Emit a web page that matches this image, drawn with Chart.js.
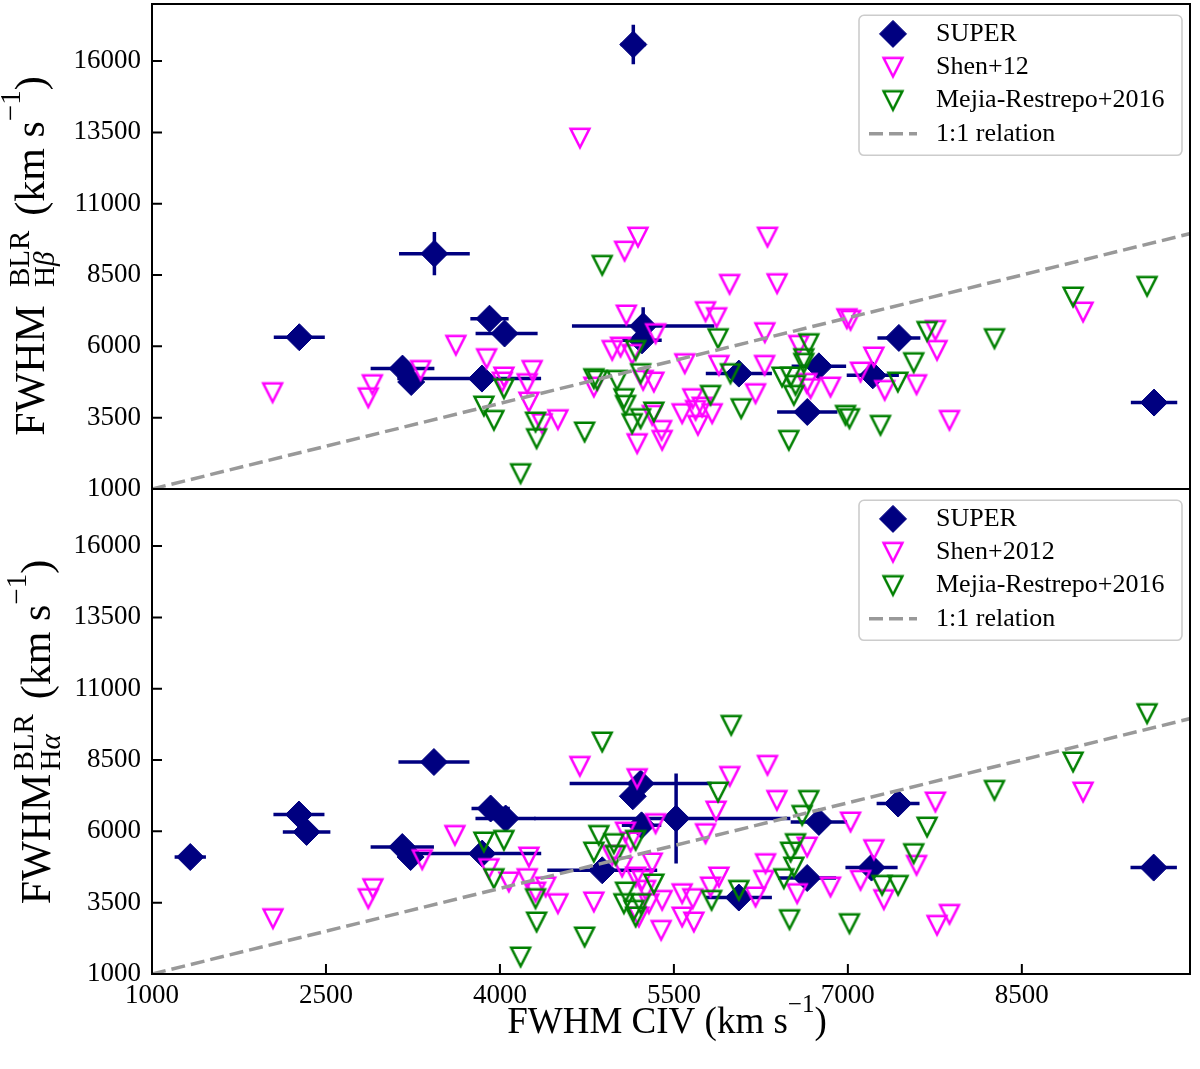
<!DOCTYPE html>
<html>
<head>
<meta charset="utf-8">
<script src="https://cdn.jsdelivr.net/npm/chart.js@4.4.1/dist/chart.umd.min.js"></script>
<style>
  body { margin: 0; background: #fff; }
  #wrap { position: relative; width: 1200px; height: 1069px; }
  #top-wrap { position: absolute; left: 0; top: 0; z-index: 2; }
  #bot-wrap { position: absolute; left: 0; top: 489px; z-index: 1; }
</style>
</head>
<body>
<div id="wrap">
  <div id="bot-wrap"><canvas id="bottom-panel" width="1200" height="580"></canvas></div>
  <div id="top-wrap"><canvas id="top-panel" width="1200" height="510"></canvas></div>
</div>
<script>
// axes
const xTicks = [1000, 2500, 4000, 5500, 7000, 8500];
const yTicks = [1000, 3500, 6000, 8500, 11000, 13500, 16000];
const xRange = [1000, 9950];
const yRange = [1000, 18000];
const oneToOne = [1000, 10000];

// top panel, FWHM Hbeta vs FWHM CIV
// SUPER rows: [x, y, xerr low, xerr high, yerr]
const hbSuper = [
  [2270, 6320, 220, 220, 0], [3435, 9250, 305, 305, 755], [3910, 6970, 165, 165, 0],
  [4040, 6450, 250, 285, 0], [3160, 5220, 275, 275, 0], [3235, 4750, 100, 100, 0],
  [3845, 4870, 730, 510, 0], [5150, 16580, 110, 110, 690], [5235, 6710, 614, 614, 665],
  [5225, 6210, 170, 170, 0], [6060, 5045, 285, 285, 0], [6750, 5300, 235, 235, 0],
  [6650, 3700, 260, 260, 0], [7215, 4985, 225, 225, 0], [7440, 6295, 185, 185, 0],
  [9640, 4030, 200, 200, 0],
];
const hbShen = [
  [2040, 4380], [2900, 4660], [2865, 4200], [3316, 5160], [3620, 6040], [3885, 5570],
  [4020, 4750], [4690, 13300], [5190, 9830], [5075, 9340], [5980, 8175], [6307, 9830],
  [6390, 8200], [5090, 7100], [5773, 7218], [5868, 7008], [6284, 6482], [6991, 6973],
  [4968, 5861], [5040, 5977], [5140, 5721], [5342, 6447], [4278, 5160], [4034, 4926],
  [4235, 4694], [4250, 4049], [4364, 3292], [4500, 3432], [4810, 4575], [5235, 4810],
  [5327, 4750], [5594, 5395], [5888, 5336], [6282, 5336], [6204, 4344], [6577, 6037],
  [6678, 4519], [6850, 4575], [5571, 3643], [5663, 4169], [5687, 3758], [5744, 3874],
  [5830, 3643], [5707, 3233], [5183, 2591], [5313, 3583], [5394, 3057], [5399, 2707],
  [6646, 4705], [7023, 6913], [7755, 6563], [7769, 5861], [7224, 5627], [7109, 5101],
  [7318, 4459], [7592, 4659], [7876, 3408], [9028, 7204],
];
const hbMejia = [
  [3862, 3909], [3948, 3408], [4034, 4519], [4882, 8841], [5881, 6272], [6663, 6096],
  [6620, 5571], [4307, 3348], [4316, 2767], [4178, 1540], [4730, 2998], [4810, 4870],
  [4839, 4810], [5011, 4810], [5069, 4169], [5083, 3934], [5213, 5045], [5170, 5860],
  [5140, 3292], [5213, 3468], [5327, 3699], [5816, 4284], [6080, 3818], [5988, 5045],
  [6433, 4926], [6506, 4926], [6549, 4635], [6534, 4284], [6491, 2707], [6980, 3583],
  [6620, 5406], [8942, 7730], [9580, 8105], [7683, 6527], [8264, 6272], [7568, 5430],
  [7431, 4750], [7014, 3468], [7281, 3233],
];

// bottom panel, FWHM Halpha vs FWHM CIV
const haSuper = [
  [1330, 5100, 135, 135, 0], [2267, 6590, 220, 220, 0], [2333, 5980, 205, 205, 0],
  [3431, 8430, 306, 306, 0], [3158, 5450, 273, 273, 0], [3230, 5100, 100, 100, 0],
  [3847, 5220, 617, 509, 0], [3920, 6800, 165, 165, 0], [4049, 6450, 260, 260, 0],
  [5213, 7675, 612, 612, 0], [5146, 7230, 60, 60, 0], [5221, 6210, 170, 170, 0],
  [5519, 6450, 1225, 985, 1577], [4882, 4635, 474, 474, 0], [6060, 3680, 285, 285, 0],
  [6649, 4365, 250, 250, 0], [6750, 6330, 243, 243, 0], [7433, 6975, 185, 185, 0],
  [7204, 4730, 225, 225, 0], [9637, 4730, 200, 200, 0],
];
const haShen = [
  [2043, 2942], [2865, 3643], [2905, 3993], [3330, 5010], [3612, 5861], [3905, 4694],
  [4689, 8280], [5183, 7849], [5982, 7929], [6307, 8315], [6388, 7088], [5864, 6713],
  [5773, 5921], [5342, 6272], [5083, 5977], [5126, 5627], [4968, 5160], [5054, 4750],
  [5313, 4891], [5226, 4284], [5170, 4400], [5256, 3934], [5198, 2998], [5284, 3468],
  [5390, 2532], [4250, 5101], [4235, 4344], [4077, 4227], [4394, 4052], [4307, 3874],
  [4500, 3468], [4810, 3526], [5399, 3583], [5571, 3817], [5663, 3643], [5571, 2998],
  [5672, 2823], [5816, 4052], [5888, 4400], [6204, 3701], [6290, 4870], [6275, 4284],
  [6649, 5451], [6563, 3818], [6850, 4052], [7023, 6328], [7755, 7029], [7224, 5361],
  [7109, 4284], [7310, 3608], [7592, 4810], [7769, 2707], [7876, 3093], [9028, 7379],
];
const haMejia = [
  [3862, 5627], [3948, 4344], [4034, 5686], [4882, 9132], [5994, 9717], [5881, 7379],
  [6663, 7088], [6606, 6562], [4307, 3643], [4316, 2823], [4178, 1596], [4730, 2297],
  [4853, 5861], [4810, 5276], [4982, 5571], [4997, 5160], [5170, 5686], [5083, 3874],
  [5069, 3468], [5155, 3233], [5213, 3468], [5170, 2998], [5327, 4155], [5825, 3583],
  [6060, 3934], [6448, 4344], [6506, 5276], [6549, 5571], [6534, 4750], [6497, 2907],
  [7014, 2766], [9580, 10127], [8942, 8431], [8264, 7439], [7683, 6152], [7568, 5220],
  [7295, 4109], [7433, 4109],
];

const topLabels = ["SUPER", "Shen+12", "Mejia-Restrepo+2016", "1:1 relation"];
const bottomLabels = ["SUPER", "Shen+2012", "Mejia-Restrepo+2016", "1:1 relation"];

const NAVY = "#000080";
const MAGENTA = "#ff00ff";
const GREEN = "#008000";
const GREY = "#999999";
const SERIF = "'Liberation Serif', 'Times New Roman', serif";

Chart.defaults.font.family = SERIF;
Chart.defaults.color = "#000";

// hollow "v" marker, centred on its bounding box like matplotlib
const makeTriangle = (color) => {
  const c = document.createElement("canvas");
  c.width = 30;
  c.height = 30;
  const g = c.getContext("2d");
  g.strokeStyle = color;
  g.lineWidth = 2.5;
  g.lineJoin = "miter";
  g.beginPath();
  g.moveTo(15 - 9.4, 15 - 9.2);
  g.lineTo(15 + 9.4, 15 - 9.2);
  g.lineTo(15, 15 + 9.2);
  g.closePath();
  g.stroke();
  return c;
};
const magentaTri = makeTriangle(MAGENTA);
const greenTri = makeTriangle(GREEN);

const fontOf = (r) => `${r.italic ? "italic " : ""}${r.size}px ${SERIF}`;
const runsWidth = (ctx, runs) =>
  runs.reduce((w, r) => {
    ctx.font = fontOf(r);
    return w + ctx.measureText(r.t).width;
  }, 0);
const itemWidth = (ctx, it) => {
  if (it.gap !== undefined) return it.gap;
  if (it.stack) return Math.max(...it.stack.map((s) => runsWidth(ctx, s)));
  return runsWidth(ctx, it.runs);
};
const drawRuns = (ctx, runs, x) => {
  runs.forEach((r) => {
    ctx.font = fontOf(r);
    ctx.fillText(r.t, x, r.dy || 0);
    x += ctx.measureText(r.t).width;
  });
};
// text with super/subscripts, centred on (cx, baseY)
const drawRich = (ctx, items, cx, baseY, rotated) => {
  ctx.save();
  ctx.translate(cx, baseY);
  if (rotated) ctx.rotate(-Math.PI / 2);
  ctx.fillStyle = "#000";
  ctx.textAlign = "left";
  ctx.textBaseline = "alphabetic";
  const total = items.reduce((w, it) => w + itemWidth(ctx, it), 0);
  let x = -total / 2;
  items.forEach((it) => {
    if (it.runs) drawRuns(ctx, it.runs, x);
    if (it.stack) it.stack.forEach((s) => drawRuns(ctx, s, x));
    x += itemWidth(ctx, it);
  });
  ctx.restore();
};

const errorBars = {
  id: "errorBars",
  beforeDatasetDraw(chart, args) {
    const ds = chart.data.datasets[args.index];
    if (!ds.errors) return;
    const { ctx, scales } = chart;
    ctx.save();
    ctx.strokeStyle = NAVY;
    ctx.lineWidth = 3.5;
    ds.data.forEach((p, i) => {
      const [lo, hi, ye] = ds.errors[i];
      const py = scales.y.getPixelForValue(p.y);
      const px = scales.x.getPixelForValue(p.x);
      ctx.beginPath();
      ctx.moveTo(scales.x.getPixelForValue(p.x - lo), py);
      ctx.lineTo(scales.x.getPixelForValue(p.x + hi), py);
      if (ye > 0) {
        ctx.moveTo(px, scales.y.getPixelForValue(p.y - ye));
        ctx.lineTo(px, scales.y.getPixelForValue(p.y + ye));
      }
      ctx.stroke();
    });
    ctx.restore();
  },
};

const panelDecor = {
  id: "panelDecor",
  afterDatasetsDraw(chart, args, opts) {
    const { ctx, chartArea: a, scales } = chart;
    ctx.save();
    // inward ticks + frame
    ctx.strokeStyle = "#000";
    ctx.lineWidth = 2;
    ctx.beginPath();
    yTicks.forEach((v) => {
      const py = scales.y.getPixelForValue(v);
      ctx.moveTo(a.left, py);
      ctx.lineTo(a.left + 10, py);
    });
    if (opts.xTicks) {
      xTicks.forEach((v) => {
        const px = scales.x.getPixelForValue(v);
        ctx.moveTo(px, a.bottom);
        ctx.lineTo(px, a.bottom - 10);
      });
    }
    ctx.stroke();
    ctx.strokeRect(a.left, a.top, a.right - a.left, a.bottom - a.top);

    // legend
    const bw = 323, bh = 140;
    const bx = a.right - 8 - bw, by = a.top + 11.3;
    ctx.beginPath();
    ctx.roundRect(bx, by, bw, bh, 5);
    ctx.fillStyle = "rgba(255,255,255,0.8)";
    ctx.fill();
    ctx.strokeStyle = "#cccccc";
    ctx.lineWidth = 1.6;
    ctx.stroke();
    chart.data.datasets.forEach((ds, i) => {
      const ry = by + 18.6 + i * 33.3;
      const mx = bx + 34;
      if (ds.type === "line") {
        ctx.save();
        ctx.strokeStyle = ds.borderColor;
        ctx.lineWidth = ds.borderWidth;
        ctx.setLineDash(ds.borderDash);
        ctx.beginPath();
        ctx.moveTo(mx - 24, ry);
        ctx.lineTo(mx + 24, ry);
        ctx.stroke();
        ctx.restore();
      } else if (ds.pointStyle instanceof HTMLCanvasElement) {
        const img = ds.pointStyle;
        ctx.drawImage(img, mx - img.width / 2, ry - img.height / 2);
      } else {
        ctx.fillStyle = ds.backgroundColor;
        ctx.strokeStyle = ds.borderColor;
        ctx.lineWidth = ds.borderWidth;
        Chart.helpers.drawPoint(ctx, { pointStyle: ds.pointStyle, radius: ds.pointRadius, rotation: 0, borderWidth: ds.borderWidth }, mx, ry);
      }
      ctx.fillStyle = "#000";
      ctx.font = `26px ${SERIF}`;
      ctx.textAlign = "left";
      ctx.textBaseline = "middle";
      ctx.fillText(ds.label, bx + 77, ry);
    });

    // axis titles
    drawRich(ctx, opts.yTitle, opts.yTitleX, opts.yTitleY, true);
    if (opts.xTitle) drawRich(ctx, opts.xTitle, opts.xTitleX, opts.xTitleY, false);
    ctx.restore();
  },
};

const buildDatasets = (sup, shen, mejia, labels) => [
  {
    type: "scatter",
    label: labels[0],
    data: sup.map((p) => ({ x: p[0], y: p[1] })),
    errors: sup.map((p) => p.slice(2)),
    pointStyle: "rectRot",
    pointRadius: 13.5,
    backgroundColor: NAVY,
    borderColor: NAVY,
    borderWidth: 1,
    order: 3,
  },
  {
    type: "scatter",
    label: labels[1],
    data: shen.map((p) => ({ x: p[0], y: p[1] })),
    pointStyle: magentaTri,
    pointRadius: 10,
    order: 2,
  },
  {
    type: "scatter",
    label: labels[2],
    data: mejia.map((p) => ({ x: p[0], y: p[1] })),
    pointStyle: greenTri,
    pointRadius: 10,
    order: 1,
  },
  {
    type: "line",
    label: labels[3],
    data: oneToOne.map((v) => ({ x: v, y: v })),
    borderColor: GREY,
    borderWidth: 3.5,
    borderDash: [14, 6],
    pointRadius: 0,
    order: 0,
  },
];

const yScale = () => ({
  type: "linear",
  min: yRange[0],
  max: yRange[1],
  afterBuildTicks: (s) => { s.ticks = yTicks.map((v) => ({ value: v })); },
  afterFit: (s) => {
    s.width = 152;
    s.paddingTop = 0;
    s.paddingBottom = 0;
  },
  grid: { display: false, drawTicks: false },
  border: { display: false },
  ticks: { autoSkip: false, padding: 11, font: { size: 27 }, callback: (v) => String(v) },
});

const hbTitle = [
  { runs: [{ t: "FWHM", size: 42 }] },
  { gap: 18 },
  { stack: [[{ t: "BLR", size: 29, dy: -15 }], [{ t: "H", size: 29, dy: 10 }, { t: "β", size: 29, dy: 10, italic: true }]] },
  { gap: 15 },
  { runs: [{ t: "(km s", size: 42 }, { t: "−1", size: 29, dy: -24 }, { t: ")", size: 42 }] },
];
const haTitle = [
  { runs: [{ t: "FWHM", size: 42 }] },
  { gap: 3 },
  { stack: [[{ t: "BLR", size: 29, dy: -17 }], [{ t: "H", size: 29, dy: 10 }, { t: "α", size: 29, dy: 10, italic: true }]] },
  { gap: 15 },
  { runs: [{ t: "(km s", size: 42 }, { t: "−1", size: 29, dy: -24 }, { t: ")", size: 42 }] },
];
const civTitle = [
  { runs: [{ t: "FWHM CIV (km s", size: 37 }, { t: "−1", size: 25, dy: -21 }, { t: ")", size: 37 }] },
];

new Chart(document.querySelector("#top-panel"), {
  data: { datasets: buildDatasets(hbSuper, hbShen, hbMejia, topLabels) },
  options: {
    responsive: false,
    animation: false,
    // no automatic padding for the big markers, the plot area is placed by hand
    layout: { autoPadding: false, padding: { top: 4, bottom: 21, left: 0, right: 10 } },
    scales: {
      x: { type: "linear", min: xRange[0], max: xRange[1], display: false },
      y: yScale(),
    },
    plugins: {
      legend: { display: false },
      tooltip: { enabled: false },
      panelDecor: { xTicks: false, yTitle: hbTitle, yTitleX: 44, yTitleY: 256 },
    },
  },
  plugins: [errorBars, panelDecor],
});

new Chart(document.querySelector("#bottom-panel"), {
  data: { datasets: buildDatasets(haSuper, haShen, haMejia, bottomLabels) },
  options: {
    responsive: false,
    animation: false,
    layout: { autoPadding: false, padding: { top: 0, bottom: 0, left: 0, right: 10 } },
    scales: {
      x: {
        type: "linear",
        min: xRange[0],
        max: xRange[1],
        afterBuildTicks: (s) => { s.ticks = xTicks.map((v) => ({ value: v })); },
        afterFit: (s) => {
          s.height = 95;
          s.paddingLeft = 0;
          s.paddingRight = 0;
        },
        grid: { display: false, drawTicks: false },
        border: { display: false },
        ticks: { autoSkip: false, maxRotation: 0, padding: 6, font: { size: 27 }, callback: (v) => String(v) },
      },
      y: yScale(),
    },
    plugins: {
      legend: { display: false },
      tooltip: { enabled: false },
      panelDecor: {
        xTicks: true,
        yTitle: haTitle, yTitleX: 50, yTitleY: 243,
        xTitle: civTitle, xTitleX: 667, xTitleY: 544,
      },
    },
  },
  plugins: [errorBars, panelDecor],
});
</script>
</body>
</html>
